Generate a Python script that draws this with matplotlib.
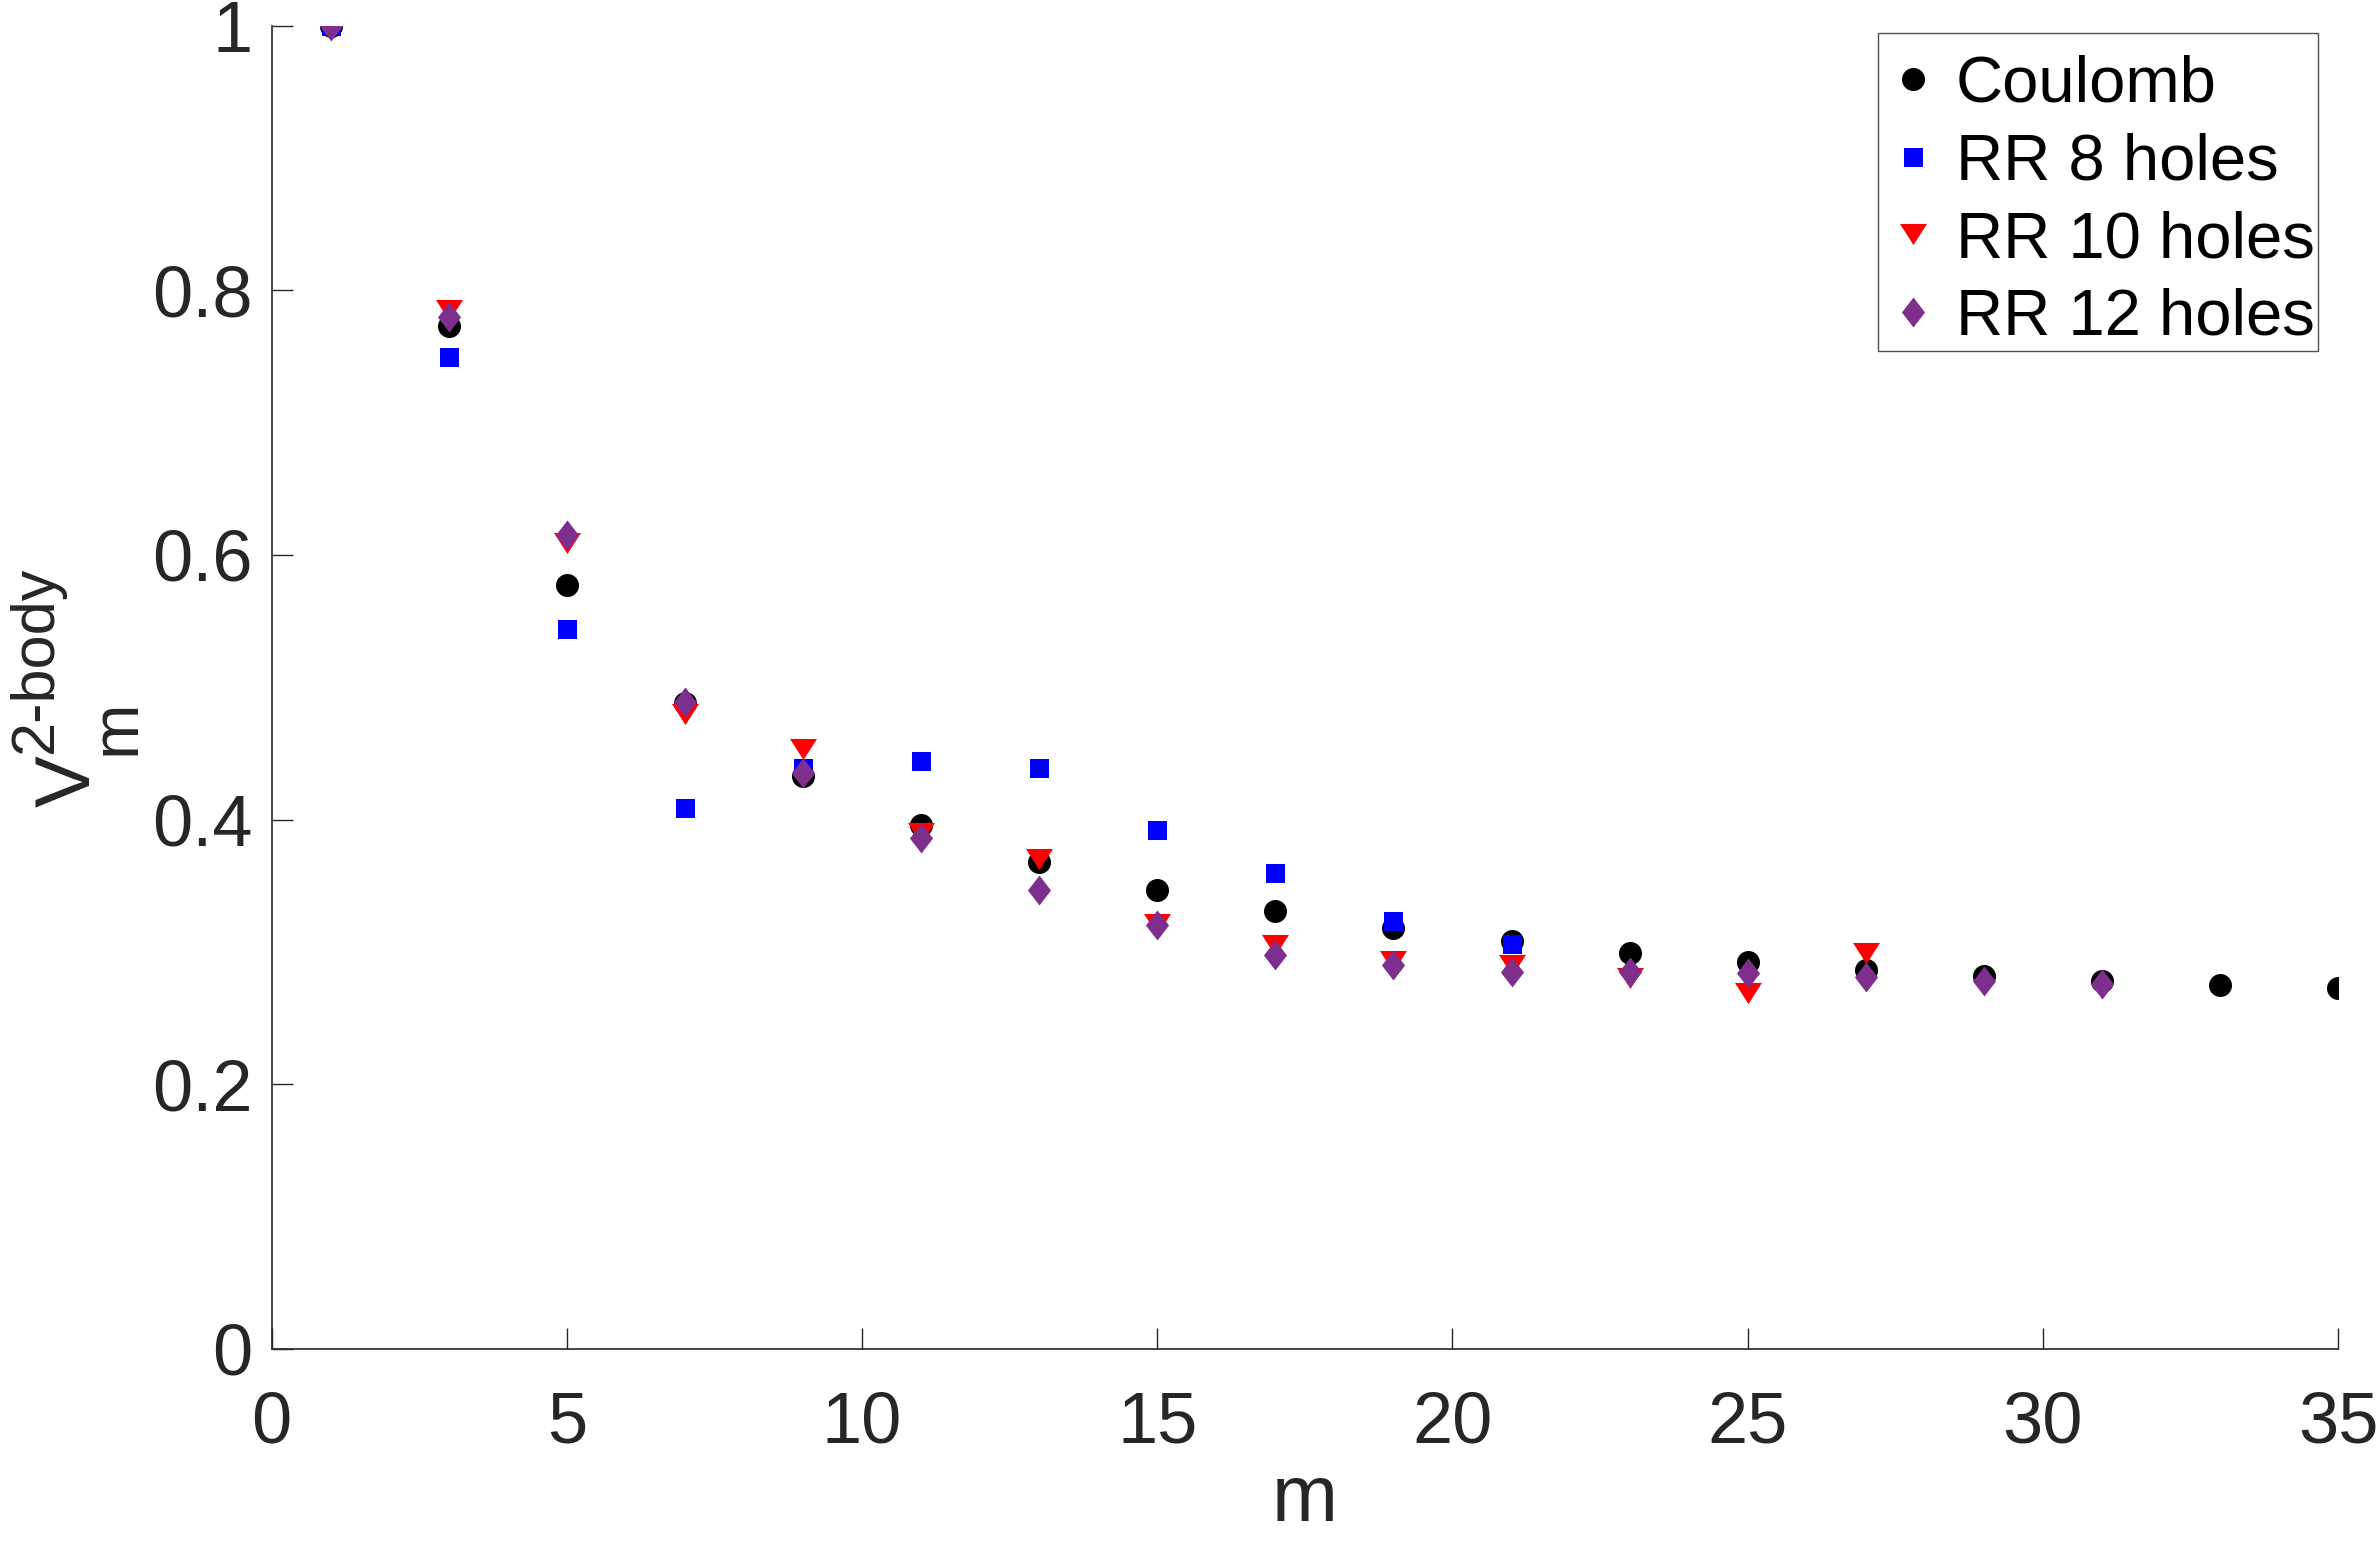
import matplotlib
matplotlib.use("Agg")
import matplotlib.pyplot as plt
from matplotlib.path import Path
import numpy as np

# ---- data ----
m_coulomb = [1, 3, 5, 7, 9, 11, 13, 15, 17, 19, 21, 23, 25, 27, 29, 31, 33, 35]
coulomb = [1.0, 0.773, 0.577, 0.488, 0.433, 0.396, 0.368, 0.347, 0.331, 0.318,
           0.308, 0.299, 0.292, 0.286, 0.282, 0.278, 0.275, 0.273]

m_rr8 = [1, 3, 5, 7, 9, 11, 13, 15, 17, 19, 21]
rr8 = [1.0, 0.750, 0.544, 0.409, 0.439, 0.444, 0.439, 0.392, 0.360, 0.323, 0.306]

m_rr10 = [1, 3, 5, 7, 9, 11, 13, 15, 17, 19, 21, 23, 25, 27]
rr10 = [1.0, 0.785, 0.609, 0.480, 0.453, 0.390, 0.370, 0.321, 0.305, 0.293,
        0.290, 0.280, 0.269, 0.299]

m_rr12 = [1, 3, 5, 7, 9, 11, 13, 15, 17, 19, 21, 23, 25, 27, 29, 31]
rr12 = [1.0, 0.780, 0.615, 0.489, 0.435, 0.386, 0.347, 0.320, 0.298, 0.290,
        0.285, 0.285, 0.284, 0.281, 0.278, 0.276]

labels = ["Coulomb", "RR 8 holes", "RR 10 holes", "RR 12 holes"]
x_ticks = [0, 5, 10, 15, 20, 25, 30, 35]
y_ticks = [0, 0.2, 0.4, 0.6, 0.8, 1.0]
y_ticklabels = ["0", "0.2", "0.4", "0.6", "0.8", "1"]

# ---- style ----
plt.rcParams['font.family'] = ['Liberation Sans', 'DejaVu Sans']

W, H = 2379, 1541
DPI = 100
fig = plt.figure(figsize=(W / DPI, H / DPI), dpi=DPI)
ax = fig.add_axes([0.1142, 0.1247, 0.9828 - 0.1142, 0.9833 - 0.1247])

px = 72.0 / DPI  # points per pixel

diamond = Path([(0, 1), (0.77, 0), (0, -1), (-0.77, 0), (0, 1)],
               [Path.MOVETO, Path.LINETO, Path.LINETO, Path.LINETO, Path.CLOSEPOLY])
tri_down = Path([(-1, 0.78), (1, 0.78), (0, -0.78), (-1, 0.78)],
                [Path.MOVETO, Path.LINETO, Path.LINETO, Path.CLOSEPOLY])

purple = '#7E2F8E'
ax.plot(m_coulomb, coulomb, linestyle='none', marker='o', color='black',
        markersize=23 * px, markeredgewidth=0, label=labels[0])
ax.plot(m_rr8, rr8, linestyle='none', marker='s', color='blue',
        markersize=19 * px, markeredgewidth=0, label=labels[1])
ax.plot(m_rr10, rr10, linestyle='none', marker=tri_down, color='red',
        markersize=27 * px, markeredgewidth=0, label=labels[2])
ax.plot(m_rr12, rr12, linestyle='none', marker=diamond, color=purple,
        markersize=30 * px, markeredgewidth=0, label=labels[3])

ax.set_xlim(0, 35)
ax.set_ylim(0, 1)
ax.set_xticks(x_ticks)
ax.set_xticklabels([str(v) for v in x_ticks])
ax.set_yticks(y_ticks)
ax.set_yticklabels(y_ticklabels)

axis_col = (0.15, 0.15, 0.15)
for s in ['top', 'right']:
    ax.spines[s].set_visible(False)
for s in ['left', 'bottom']:
    ax.spines[s].set_color(axis_col)
    ax.spines[s].set_linewidth(1.2)
ax.tick_params(direction='in', length=21 * px, width=1.0, colors=axis_col,
               labelsize=52, pad=14)
ax.tick_params(axis='x', pad=30)

ax.set_xlabel('m', fontsize=57, color=axis_col, labelpad=4)

# y label: V with subscript m and superscript 2-body (rotated)
def fig_xy(xp, yp):
    return xp / W, 1 - yp / H

for txt, (xp, yp), fs in [("V", (90, 807), 56),
                          ("m", (135, 755), 48),
                          ("2-body", (52, 753), 44)]:
    fx, fy = fig_xy(xp, yp)
    fig.text(fx, fy, txt, fontsize=fs, color=axis_col, rotation=90,
             rotation_mode='anchor', ha='left', va='baseline')

leg = ax.legend(loc='upper right', bbox_to_anchor=(0.9903, 0.9946),
                fontsize=47, frameon=True, fancybox=False, borderaxespad=0,
                borderpad=0.05, labelspacing=0.27, handlelength=1.0,
                handletextpad=0.15, title=' ', title_fontsize=1)
leg.get_frame().set_edgecolor((0.15, 0.15, 0.15))
leg.get_frame().set_linewidth(1.0)

fig.savefig('out.png', dpi=DPI, facecolor='white')
